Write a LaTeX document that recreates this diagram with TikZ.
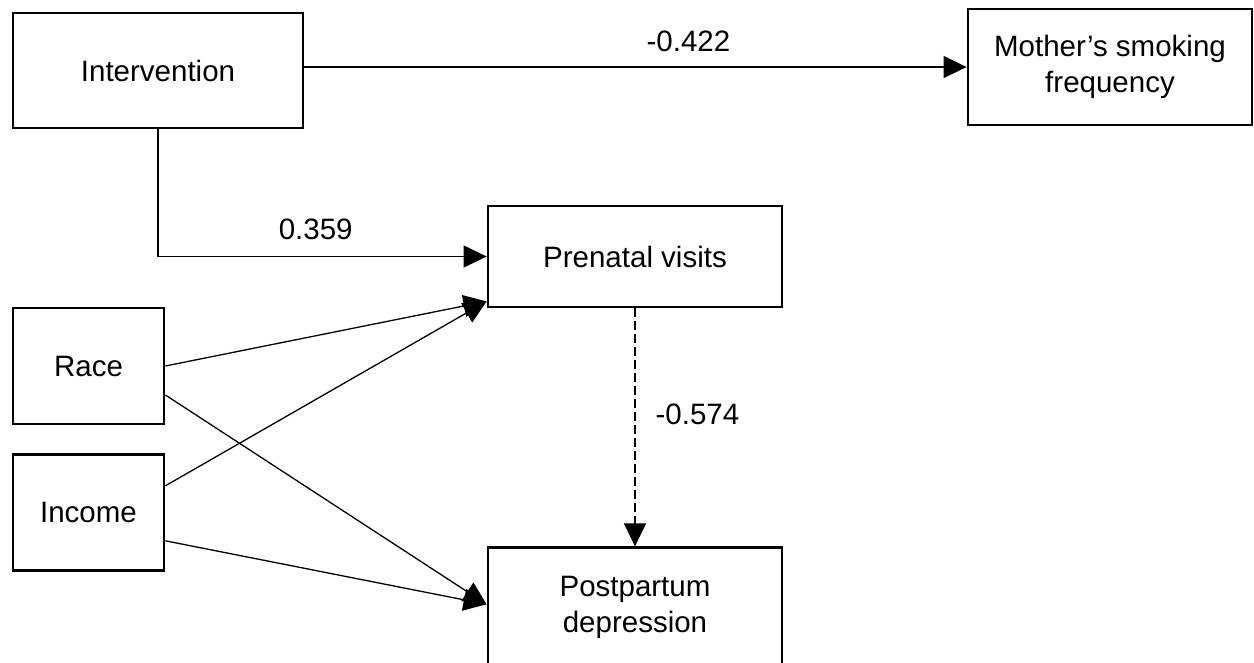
\documentclass[tikz,border=0pt]{standalone}
\usepackage{fontspec}
\setmainfont{Liberation Sans}
\usepackage{tikz}
\usetikzlibrary{arrows.meta}
\usetikzlibrary{positioning}
\tikzset{varbox/.style = {draw, line width = 2.8, inner sep = 0, align = center, font = \fontsize{29.5}{35.5}\selectfont}}
\tikzset{link/.style = {line width = 1.3, -{Triangle[length = 23pt, width = 22pt]}}}
\tikzset{coef/.style = {inner sep = 0, font = \fontsize{29.5}{35.5}\selectfont}}

\begin{document}
\begin{tikzpicture}[x = 1pt, y = -1pt]
       \useasboundingbox (0, 0) rectangle (1254, 662);
       \clip (0, 0) rectangle (1254, 662);

       \node [varbox, minimum width = 290, minimum height = 115] (intv) at (158, 70.5) {Intervention};
       \node [varbox, minimum width = 284, minimum height = 116] (smoke) at (1110, 67) {Mother’s smoking\\frequency};
       \node [varbox, minimum width = 294, minimum height = 101] (visits) at (635, 256.5) {Prenatal visits};
       \node [varbox, minimum width = 151, minimum height = 116] (race) at (88.5, 366) {Race};
       \node [varbox, minimum width = 151, minimum height = 116, below = 28pt of race] (income) {Income};
       \node [varbox, minimum width = 294, minimum height = 119, below = 238pt of visits] (ppd) {Postpartum\\depression};

       \draw [link] (intv.east |- smoke.west) -- (smoke.west) node [coef, pos = 0.58, above = 15pt] {-0.422};
       \draw [link] (intv.south) |- (visits.west) node [coef, pos = 0.74, above = 16pt] {0.359};

       \draw [link] (race.east) -- ([yshift = 7pt] visits.south west);
       \draw [link] ([yshift = 27pt] income.east) -- ([yshift = 7pt] visits.south west);
       \draw [link] ([yshift = -29pt] race.east) -- ([yshift = 3pt] ppd.west);
       \draw [link] ([yshift = -28pt] income.east) -- ([yshift = 3pt] ppd.west);

       \draw [link, dash pattern = on 9pt off 4pt] (visits.south) -- (ppd.north) node [coef, pos = 0.445, right = 20pt] {-0.574};
\end{tikzpicture}
\end{document}
